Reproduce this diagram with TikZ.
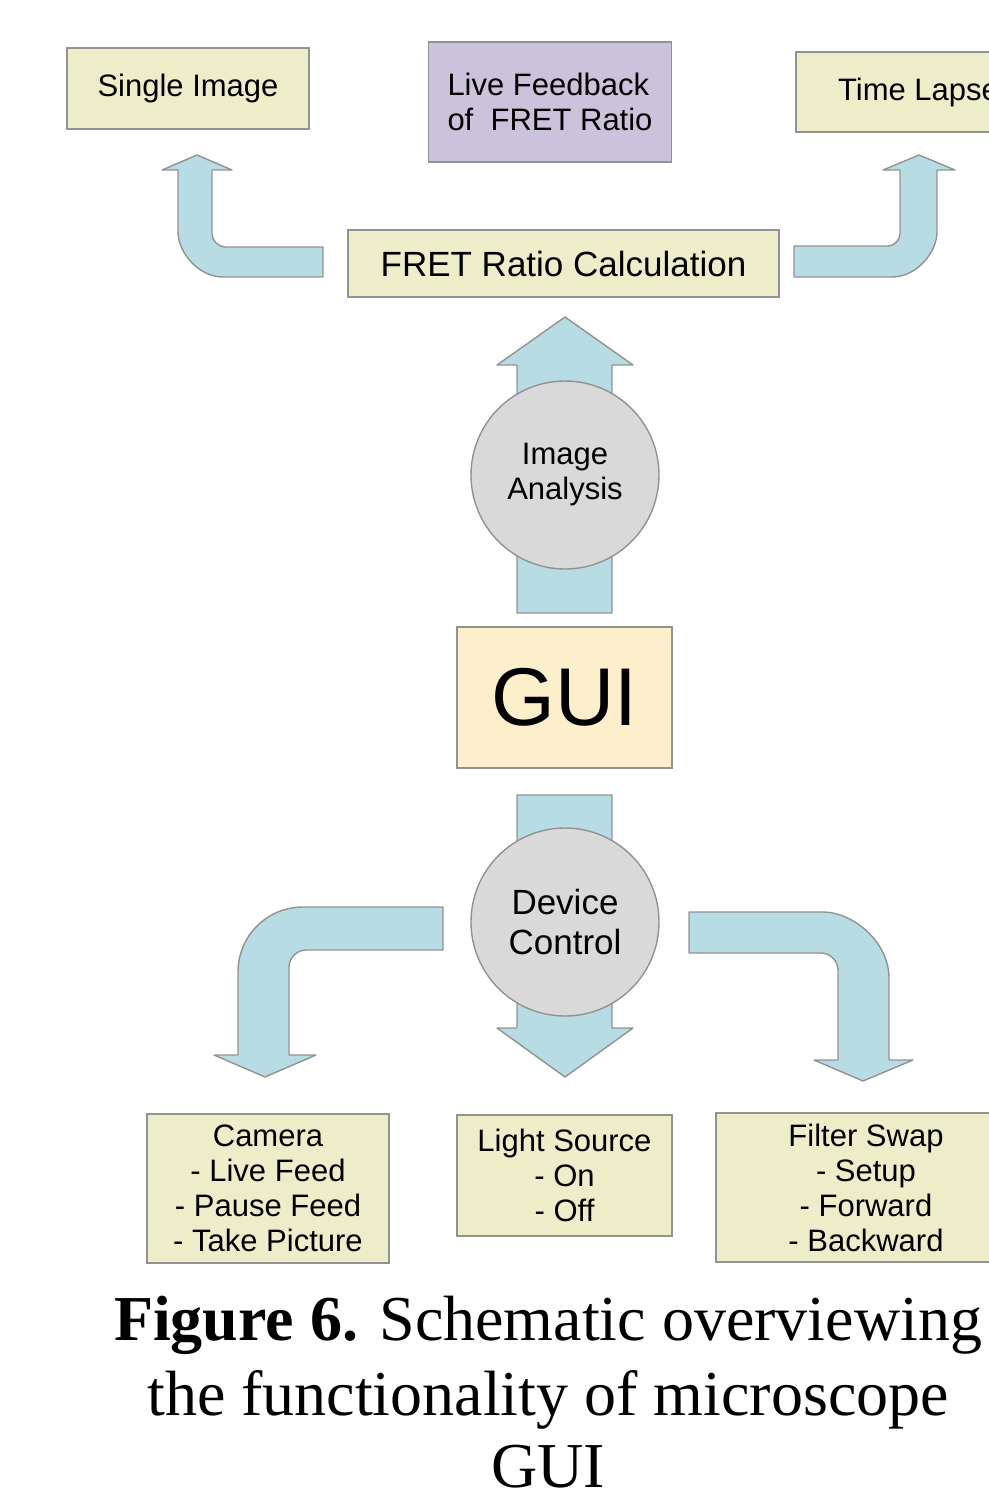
\documentclass[tikz,border=0pt]{standalone}
\usepackage{fontspec}
\setmainfont{Liberation Serif}
\newfontfamily\boxfont{Liberation Sans}
\usepackage{tikz}
\usetikzlibrary{calc}
\definecolor{palKhaki}{HTML}{EDEDCA}
\definecolor{palLilac}{HTML}{CBC2DB}
\definecolor{palCream}{HTML}{FDEFCB}
\definecolor{palSky}{HTML}{B8DCE4}
\definecolor{palGrey}{HTML}{D9D9D9}
\definecolor{palEdge}{HTML}{929292}
\tikzset{
  funcbox/.style={draw=palEdge, fill=palKhaki, line width=0.8pt, inner sep=0pt,
                  align=center, font=\boxfont\fontsize{15.5}{17.5}\selectfont},
  stagecirc/.style={circle, draw=palEdge, fill=palGrey, line width=0.7pt,
                    minimum size=94pt, inner sep=0pt, align=center},
  blockarrow/.style={draw=palEdge, fill=palSky, line width=0.7pt, line join=round},
  capline/.style={anchor=base, inner sep=0pt, font=\fontsize{32}{38}\selectfont},
}
\begin{document}
\begin{tikzpicture}[x=0.5pt, y=-0.5pt]
\useasboundingbox (0,0) rectangle (989,1494);
\clip (0,0) rectangle (989,1494);
%% Block arrows (drawn first, circles sit on top)
\path[blockarrow] (517,613) -- (517,365) -- (497,365) -- (565,317) -- (633,365)
  -- (612,365) -- (612,613) -- cycle;
\path[blockarrow] (517,795) -- (517,1028) -- (497,1028) -- (565,1077) -- (633,1028)
  -- (612,1028) -- (612,795) -- cycle;
% bent ones, top row
\path[blockarrow] (323,247) -- (225,247) .. controls (219,247) and (212,241) .. (212,234)
  -- (212,170) -- (232,170) -- (197,155) -- (162,170) -- (178,170)
  -- (178,232) .. controls (178,252) and (198,277) .. (223,277) -- (323,277) -- cycle;
\path[blockarrow] (794,246) -- (888,246) .. controls (893,246) and (900,241) .. (900,234)
  -- (900,170) -- (883,170) -- (919,155) -- (955,170) -- (937,170)
  -- (937,232) .. controls (937,252) and (917,277) .. (892,277) -- (794,277) -- cycle;
% bent ones, bottom row
\path[blockarrow] (443,907) -- (303,907) .. controls (267,907) and (238,936) .. (238,972)
  -- (238,1055) -- (214,1055) -- (265,1077) -- (316,1055) -- (289,1055)
  -- (289,967) .. controls (289,958) and (297,950) .. (306,950) -- (443,950) -- cycle;
\path[blockarrow] (689,912) -- (823,912) .. controls (853,912) and (889,942) .. (889,978)
  -- (889,1060) -- (913,1060) -- (863,1081) -- (814,1060) -- (838,1060)
  -- (838,970) .. controls (838,961) and (830,953) .. (821,953) -- (689,953) -- cycle;
%% Nodes
\node[funcbox, minimum width=121pt, minimum height=40.5pt] (single) at (188,88.5) {Single Image};
\node[funcbox, fill=palLilac, align=left, minimum width=121.5pt, minimum height=60pt]
  (live) at (550,102) {Live Feedback\\of\ \ FRET Ratio};
\node[funcbox, minimum width=122.5pt, minimum height=40pt] (lapse) at (918.5,92) {Time Lapse};
\node[funcbox, font=\boxfont\fontsize{17.5}{20}\selectfont, minimum width=215.5pt,
  minimum height=33.5pt] (ratio) at (563.5,263.5) {FRET Ratio Calculation};
\node[stagecirc, font=\boxfont\fontsize{15.5}{17.5}\selectfont] (analysis) at (565,475) {Image\\Analysis};
\node[funcbox, fill=palCream, font=\boxfont\fontsize{41}{41}\selectfont,
  minimum width=107.5pt, minimum height=70.5pt] (gui) at (564.5,697.5) {GUI};
\node[stagecirc, font=\boxfont\fontsize{17.5}{20}\selectfont] (device) at (565,922) {Device\\Control};
\node[funcbox, minimum width=121pt, minimum height=74.5pt] (camera) at (268,1188.5)
  {Camera\\- Live Feed\\- Pause Feed\\- Take Picture};
\node[funcbox, minimum width=107.5pt, minimum height=60.5pt] (light) at (564.5,1175.5)
  {Light Source\\- On\\- Off};
\node[funcbox, minimum width=150pt, minimum height=74.5pt] (filter) at (866,1187.5)
  {Filter Swap\\- Setup\\- Forward\\- Backward};
%% Caption
\node[capline] (cap1) at (548,1340) {\textbf{Figure 6.} Schematic overviewing};
\node[capline] (cap2) at (548,1415) {the functionality of microscope};
\node[capline] (cap3) at (548,1487) {GUI};
\end{tikzpicture}
\end{document}
